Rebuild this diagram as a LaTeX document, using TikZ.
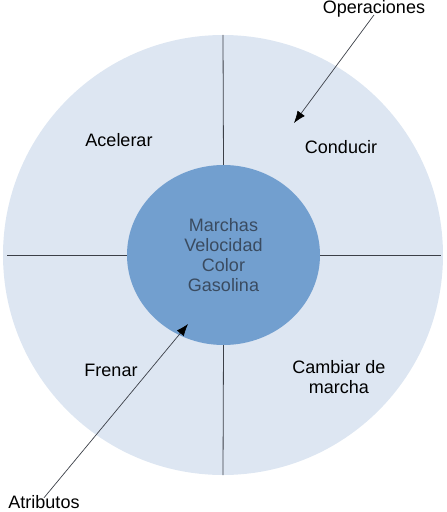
\documentclass[tikz,border=0pt]{standalone}
\usepackage{fontspec}
\setmainfont{Liberation Sans}
\usetikzlibrary{arrows.meta,shapes.geometric}

\definecolor{ringblue}{HTML}{DDE6F2}
\definecolor{coreblue}{HTML}{729FCF}
\definecolor{coretext}{HTML}{3A4B60}
\definecolor{divline}{HTML}{3C4048}

\tikzset{
	label/.style={font=\fontsize{18}{20}\selectfont, inner sep=0pt},
	divider/.style={divline, line width=0.8pt},
	pointer/.style={divline, line width=0.7pt, -{Latex[length=12pt,width=9pt,black]}}
}

\begin{document}
\begin{tikzpicture}[x=1pt,y=-1pt]
	\useasboundingbox (0,0) rectangle (447,512);

	% ring and core
	\node[circle, fill=ringblue, minimum size=440pt, inner sep=0pt] (ring) at (223,255) {};
	\node[ellipse, fill=coreblue, minimum width=193pt, minimum height=180pt, inner sep=0pt,
		label, align=center, text=coretext] (core) at (223.5,255)
		{Marchas\\Velocidad\\Color\\Gasolina};

	% dividers
	\draw[divider] (core.north) -- (ring.north);
	\draw[divider] (core.south) -- (ring.south);
	\draw[divider] (core.west) -- ([xshift=4pt]ring.west);
	\draw[divider] (core.east) -- ([xshift=-2pt]ring.east);

	% operations
	\node[label, anchor=base] (acel) at (119,146) {Acelerar};
	\node[label, anchor=base] (cond) at (341,153) {Conducir};
	\node[label, anchor=base] (fren) at (111,376) {Frenar};
	\node[label, align=center] (camb) at (339,377) {Cambiar de\\marcha};

	% callouts
	\node[label, anchor=base] (opera) at (374,13) {Operaciones};
	\node[label, anchor=base] (attr) at (44,508) {Atributos};
	\coordinate (operatip) at (294,123);
	\coordinate (attrtip) at (188,324);
	\draw[pointer] ([yshift=2pt]opera.south) -- (operatip);
	\draw[pointer] ([yshift=-3pt]attr.north) -- (attrtip);
\end{tikzpicture}
\end{document}
